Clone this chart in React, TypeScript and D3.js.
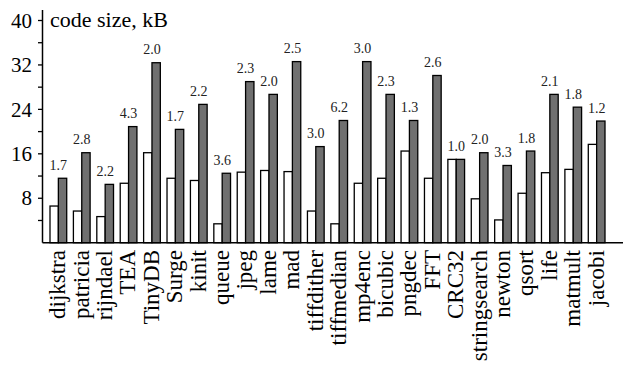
import React from "react";
import * as d3 from "d3";

// Benchmarks along the x axis
const benchmarks = [
  "dijkstra", "patricia", "rijndael", "TEA", "TinyDB", "Surge", "kinit", "queue",
  "jpeg", "lame", "mad", "tiffdither", "tiffmedian", "mp4enc", "bicubic", "pngdec",
  "FFT", "CRC32", "stringsearch", "newton", "qsort", "life", "matmult", "jacobi",
];

// Code size in kB: baseline build (white) and instrumented build (grey)
const baseSize = [
  6.6, 5.7, 4.7, 10.7, 16.2, 11.6, 11.2, 3.4,
  12.7, 13.0, 12.8, 5.7, 3.4, 10.7, 11.6, 16.5,
  11.6, 15.0, 7.9, 4.1, 8.9, 12.6, 13.2, 17.7,
];
const instrSize = [
  11.6, 16.2, 10.5, 20.9, 32.4, 20.4, 24.9, 12.5,
  29.0, 26.7, 32.6, 17.3, 22.0, 32.6, 26.7, 22.0,
  30.1, 15.0, 16.2, 13.9, 16.5, 26.7, 24.4, 21.9,
];

// Overhead annotation printed above each pair
const overheadLabels = [
  "1.7", "2.8", "2.2", "4.3", "2.0", "1.7", "2.2", "3.6",
  "2.3", "2.0", "2.5", "3.0", "6.2", "3.0", "2.3", "1.3",
  "2.6", "1.0", "2.0", "3.3", "1.8", "2.1", "1.8", "1.2",
];

const majorTicks = [8, 16, 24, 32, 40];
const minorTicks = [4, 12, 20, 28, 36];

const W = 624;
const H = 367;
const FONT = "'Liberation Serif', 'DejaVu Serif', serif";

export default function App() {
  const axisX = 42.5;
  const y = d3.scaleLinear().domain([0, 40]).range([242.7, 20.5]);
  const x = d3
    .scaleBand<string>()
    .domain(benchmarks)
    .range([50, 605])
    .paddingInner(0.286)
    .paddingOuter(0);
  const sub = d3
    .scaleBand<string>()
    .domain(["base", "instr"])
    .range([0, x.bandwidth()]);

  const base = y(0);

  return (
    <svg
      width={W}
      height={H}
      style={{ position: "absolute", left: 0, top: 0, background: "#fff" }}
      fontFamily={FONT}
    >
      {/* bars */}
      {benchmarks.map((b, i) => {
        const x0 = x(b)!;
        const bw = sub.bandwidth();
        const top = Math.min(y(baseSize[i]), y(instrSize[i]));
        return (
          <g key={b}>
            <rect
              x={x0 + sub("base")!}
              y={y(baseSize[i])}
              width={bw}
              height={base - y(baseSize[i])}
              fill="#fff"
              stroke="#000"
              strokeWidth={1.3}
            />
            <rect
              x={x0 + sub("instr")!}
              y={y(instrSize[i])}
              width={bw}
              height={base - y(instrSize[i])}
              fill="#707070"
              stroke="#000"
              strokeWidth={1.3}
            />
            <text
              x={x0 + x.bandwidth() / 2}
              y={top - 8.5}
              textAnchor="middle"
              fontSize={14}
              fill="#222"
            >
              {overheadLabels[i]}
            </text>
            <text
              transform={`translate(${x0 + x.bandwidth() / 2},250) rotate(-90)`}
              textAnchor="end"
              dy="0.3em"
              fontSize={23}
              fill="#000"
            >
              {b}
            </text>
          </g>
        );
      })}

      {/* axes */}
      <line x1={axisX} x2={axisX} y1={10} y2={base} stroke="#000" strokeWidth={1.5} />
      <line x1={axisX} x2={623} y1={base} y2={base} stroke="#000" strokeWidth={1.5} />
      {minorTicks.concat(majorTicks).map((t) => (
        <line
          key={`t${t}`}
          x1={axisX - 4.5}
          x2={axisX}
          y1={y(t)}
          y2={y(t)}
          stroke="#000"
          strokeWidth={1.3}
        />
      ))}
      {majorTicks.map((t) => (
        <text
          key={`l${t}`}
          x={32}
          y={y(t)}
          dy="0.34em"
          textAnchor="end"
          fontSize={21}
          fill="#000"
        >
          {t}
        </text>
      ))}
      <text x={50} y={27} fontSize={22} fill="#000">
        code size, kB
      </text>
    </svg>
  );
}
